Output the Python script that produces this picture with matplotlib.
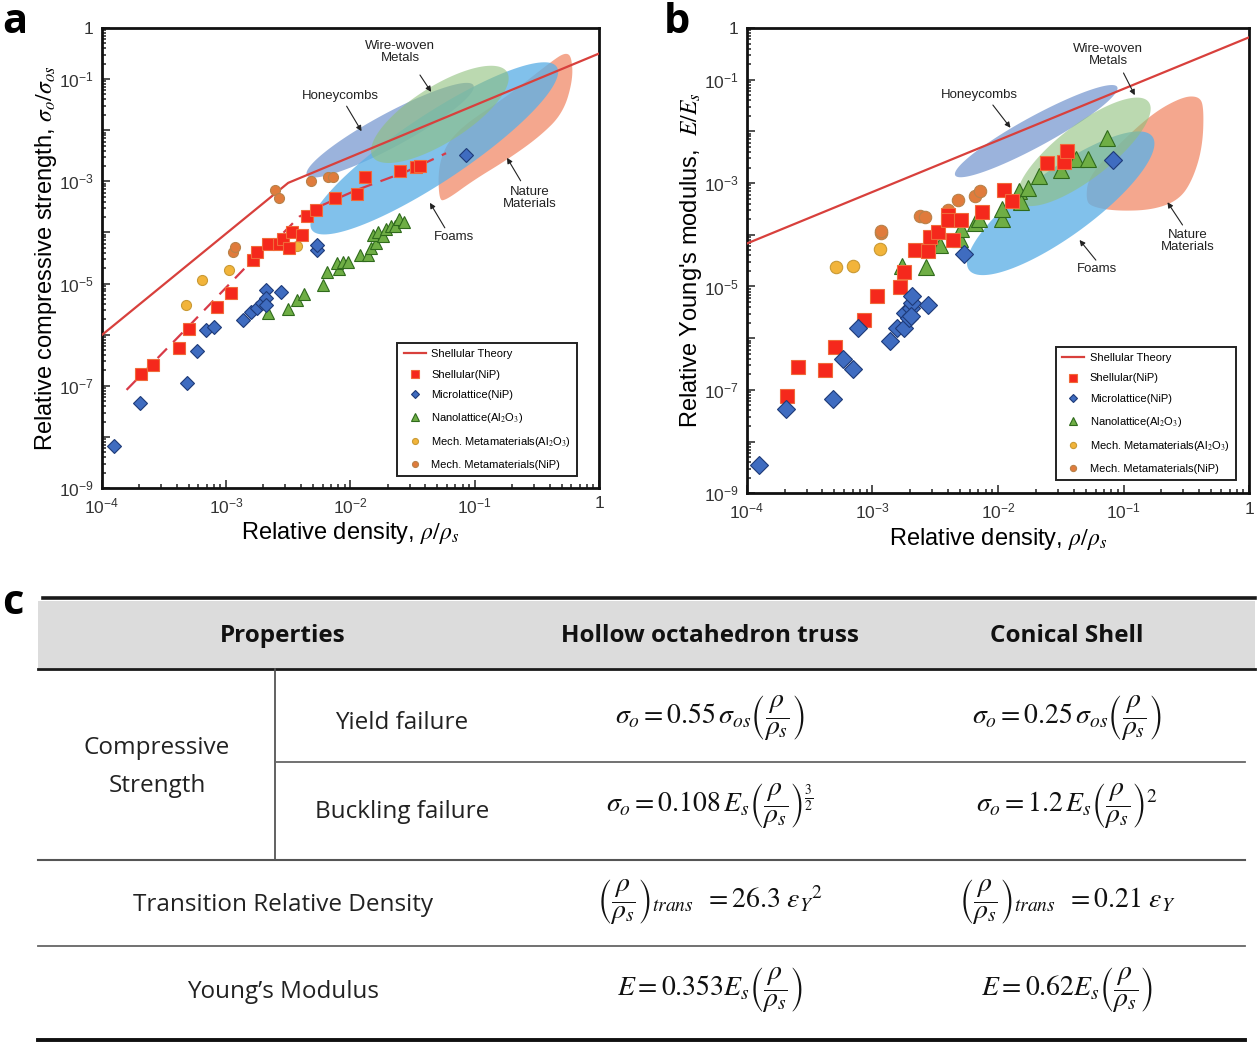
import numpy as np
import matplotlib
matplotlib.use('Agg')
import matplotlib.pyplot as plt
from matplotlib.patches import Rectangle
from matplotlib.ticker import LogLocator, FixedLocator, FuncFormatter, NullFormatter

plt.rcParams['font.family'] = ['Liberation Sans', 'DejaVu Sans']
plt.rcParams['mathtext.fontset'] = 'stix'

# ---- data, stored as log10 values (decades) ----
# panel a : relative compressive strength vs relative density
theory_a_lx = [-4.0, -2.5, 0.0]
theory_a_ly = [-6.01, -3.03, -0.50]
trend_a_lx = [-3.80, -3.29, -2.81, -2.54, -2.41, -2.22, -1.95, -1.55, -1.23]
trend_a_ly = [-7.08, -5.81, -4.60, -4.01, -3.69, -3.46, -3.17, -2.81, -2.45]

shell_a_lx = [-3.68, -3.59, -3.38, -3.30, -3.07, -2.96, -2.78, -2.75, -2.66, -2.57, -2.54,
              -2.49, -2.47, -2.39, -2.35, -2.28, -2.12, -1.95, -1.88, -1.60, -1.47, -1.44]
shell_a_ly = [-6.76, -6.60, -6.26, -5.88, -5.45, -5.19, -4.54, -4.39, -4.22, -4.23, -4.12,
              -4.31, -3.99, -4.05, -3.68, -3.56, -3.33, -3.25, -2.92, -2.79, -2.72, -2.70]
micro_a_lx = [-3.90, -3.69, -3.31, -3.23, -3.16, -3.10, -2.86, -2.80, -2.75, -2.71, -2.68,
              -2.68, -2.68, -2.56, -2.27, -2.27, -1.07]
micro_a_ly = [-8.18, -7.33, -6.94, -6.31, -5.90, -5.85, -5.72, -5.56, -5.47, -5.38, -5.13,
              -5.29, -5.42, -5.16, -4.34, -4.25, -2.48]
nano_a_lx = [-2.66, -2.50, -2.43, -2.37, -2.22, -2.19, -2.09, -2.11, -2.06, -2.02, -1.92,
             -1.86, -1.83, -1.79, -1.82, -1.78, -1.74, -1.71, -1.67, -1.64, -1.61, -1.57]
nano_a_ly = [-5.58, -5.50, -5.32, -5.20, -5.03, -4.78, -4.72, -4.59, -4.58, -4.58, -4.45,
             -4.45, -4.31, -4.21, -4.05, -3.99, -4.07, -3.94, -3.87, -3.88, -3.74, -3.79]
mmal_a_lx = [-3.32, -3.19, -2.98, -2.43]
mmal_a_ly = [-5.41, -4.93, -4.73, -4.27]
mmni_a_lx = [-2.94, -2.93, -2.61, -2.57, -2.32, -2.18, -2.14]
mmni_a_ly = [-4.38, -4.29, -3.16, -3.33, -2.99, -2.91, -2.91]

# panel b : relative Young's modulus vs relative density
theory_b_lx = [-4.0, 0.0]
theory_b_ly = [-4.17, -0.18]
shell_b_lx = [-3.68, -3.59, -3.38, -3.30, -3.07, -2.96, -2.78, -2.75, -2.66, -2.56, -2.54,
              -2.48, -2.40, -2.40, -2.36, -2.29, -2.13, -1.95, -1.89, -1.61, -1.47, -1.45]
shell_b_ly = [-7.12, -6.56, -6.62, -6.17, -5.64, -5.19, -5.01, -4.72, -4.29, -4.31, -4.05,
              -3.94, -3.62, -3.72, -4.10, -3.72, -3.56, -3.13, -3.34, -2.61, -2.59, -2.38]
micro_b_lx = [-3.90, -3.69, -3.31, -3.23, -3.15, -3.11, -2.86, -2.80, -2.75, -2.74, -2.71,
              -2.69, -2.68, -2.68, -2.69, -2.56, -2.27, -1.08]
micro_b_ly = [-8.46, -7.36, -7.18, -6.41, -6.59, -5.81, -6.06, -5.81, -5.81, -5.52, -5.61,
              -5.42, -5.31, -5.19, -5.58, -5.35, -4.37, -2.56]
nano_b_lx = [-2.76, -2.57, -2.46, -2.30, -2.29, -2.18, -2.15, -1.97, -1.97, -1.83, -1.82,
             -1.76, -1.67, -1.50, -1.38, -1.28, -1.13]
nano_b_ly = [-4.60, -4.63, -4.20, -4.08, -3.88, -3.77, -3.69, -3.69, -3.51, -3.15, -3.36,
             -3.10, -2.86, -2.74, -2.53, -2.53, -2.12]
mmal_b_lx = [-3.29, -3.15, -2.94]
mmal_b_ly = [-4.63, -4.60, -4.27]
mmni_b_lx = [-2.93, -2.93, -2.62, -2.58, -2.40, -2.32, -2.18, -2.14]
mmni_b_ly = [-3.97, -3.92, -3.64, -3.65, -3.52, -3.32, -3.25, -3.15]

# material regions: long-axis end points (log x, log y) and half width (y decades)
honey_a = [(-2.35, -2.88), (-1.01, -1.12), 0.33]
wire_a = [(-1.82, -2.52), (-0.74, -0.86), 0.55]
foam_a = [(-2.31, -3.95), (-0.34, -0.76), 0.65]
nature_a_lx = [-1.29, -1.29, -1.15, -0.74, -0.37, -0.27, -0.22, -0.21, -0.29, -0.48, -0.74, -1.01, -1.23]
nature_a_ly = [-3.37, -2.58, -2.00, -1.34, -0.63, -0.48, -0.56, -1.02, -1.67, -2.13, -2.58, -2.98, -3.37]
honey_b = [(-2.34, -2.85), (-1.05, -1.14), 0.29]
wire_b = [(-1.83, -3.36), (-0.80, -1.43), 0.52]
foam_b = [(-2.23, -4.68), (-0.77, -2.10), 0.64]
nature_b_lx = [-1.30, -1.28, -1.06, -0.77, -0.53, -0.40, -0.36, -0.37, -0.45, -0.56, -0.77, -1.06, -1.25]
nature_b_ly = [-3.33, -2.88, -2.30, -1.65, -1.33, -1.32, -1.52, -2.30, -2.94, -3.33, -3.52, -3.54, -3.46]

# labels: text position, arrow tail, arrow head (log x, log y)
region_names = ['Wire-woven\nMetals', 'Honeycombs', 'Nature\nMaterials', 'Foams']
notes_a = [[(-1.60, -0.47), (-1.44, -0.92), (-1.35, -1.25)],
           [(-2.08, -1.33), (-2.03, -1.53), (-1.91, -2.02)],
           [(-0.56, -3.33), (-0.63, -2.99), (-0.74, -2.54)],
           [(-1.17, -4.09), (-1.24, -3.91), (-1.36, -3.42)]]
notes_b = [[(-1.12, -0.52), (-1.00, -0.87), (-0.91, -1.30)],
           [(-2.15, -1.30), (-2.04, -1.49), (-1.90, -1.93)],
           [(-0.49, -4.12), (-0.53, -3.81), (-0.65, -3.37)],
           [(-1.21, -4.66), (-1.22, -4.49), (-1.35, -4.10)]]

# table c
col_heads = ['Properties', 'Hollow octahedron truss', 'Conical Shell']
row_names = ['Yield failure', 'Buckling failure', 'Transition Relative Density', 'Young’s Modulus']
group_name = 'Compressive\nStrength'
eq_truss = [r'$\sigma_o = 0.55\,\sigma_{os}\left(\dfrac{\rho}{\rho_s}\right)$',
            r'$\sigma_o = 0.108\,E_s\left(\dfrac{\rho}{\rho_s}\right)^{\frac{3}{2}}$',
            r'$\left(\dfrac{\rho}{\rho_s}\right)_{trans}\;\; = 26.3\ \varepsilon_Y{}^{2}$',
            r'$E = 0.353E_s\left(\dfrac{\rho}{\rho_s}\right)$']
eq_shell = [r'$\sigma_o = 0.25\,\sigma_{os}\left(\dfrac{\rho}{\rho_s}\right)$',
            r'$\sigma_o = 1.2\,E_s\left(\dfrac{\rho}{\rho_s}\right)^{2}$',
            r'$\left(\dfrac{\rho}{\rho_s}\right)_{trans}\;\; = 0.21\ \varepsilon_Y$',
            r'$E = 0.62E_s\left(\dfrac{\rho}{\rho_s}\right)$']

W, H = 1260, 1049
fig = plt.figure(figsize=(W / 100, H / 100), dpi=100)

C_HONEY = '#8aa6d6'
C_WIRE = '#8fc07c'
C_FOAM = '#5eb0e6'
C_NAT = '#f3987a'


def p10(v):
    return 10 ** np.asarray(v, dtype=float)


def ellipse(ax, spec, k, **kw):
    (x1, y1), (x2, y2), hw = spec
    x1, x2 = x1 * k, x2 * k
    cx, cy = (x1 + x2) / 2, (y1 + y2) / 2
    a = np.hypot(x2 - x1, y2 - y1) / 2
    th = np.arctan2(y2 - y1, x2 - x1)
    t = np.linspace(0, 2 * np.pi, 150)
    ex = cx + a * np.cos(t) * np.cos(th) - hw * np.sin(t) * np.sin(th)
    ey = cy + a * np.cos(t) * np.sin(th) + hw * np.sin(t) * np.cos(th)
    ax.fill(p10(ex / k), p10(ey), lw=0, **kw)


def blob(ax, lx, ly, **kw):
    # chaikin smoothing of a closed outline
    pts = np.column_stack([lx, ly])
    for _ in range(4):
        nxt = np.roll(pts, -1, axis=0)
        pts = np.vstack([0.75 * pts + 0.25 * nxt, 0.25 * pts + 0.75 * nxt])
        order = np.arange(len(pts)).reshape(2, -1).T.ravel()
        pts = pts[order]
    ax.fill(p10(pts[:, 0]), p10(pts[:, 1]), lw=0, **kw)


def decade_fmt(labelled):
    def f(v, pos):
        e = int(round(np.log10(v)))
        if e not in labelled:
            return ''
        if e == 0:
            return '1'
        return r'$\mathdefault{10^{%d}}$' % e
    return FuncFormatter(f)


def setup(ax, ylab):
    ax.set_xscale('log')
    ax.set_yscale('log')
    ax.set_xlim(1e-4, 1)
    ax.set_ylim(1e-9, 1)
    ax.xaxis.set_major_locator(FixedLocator(p10(np.arange(-4, 1))))
    ax.yaxis.set_major_locator(FixedLocator(p10(np.arange(-9, 1))))
    ax.xaxis.set_minor_locator(LogLocator(base=10, subs=np.arange(2, 10), numticks=50))
    ax.yaxis.set_minor_locator(LogLocator(base=10, subs=np.arange(2, 10), numticks=50))
    ax.xaxis.set_minor_formatter(NullFormatter())
    ax.yaxis.set_minor_formatter(NullFormatter())
    ax.xaxis.set_major_formatter(decade_fmt([-4, -3, -2, -1, 0]))
    ax.yaxis.set_major_formatter(decade_fmt([0, -1, -3, -5, -7, -9]))
    ax.tick_params(which='both', direction='in', top=False, right=False, labelsize=12.5,
                   colors='#333333', width=1.2)
    ax.tick_params(which='major', length=6, pad=6)
    ax.tick_params(which='minor', length=3)
    for s in ax.spines.values():
        s.set_linewidth(2)
        s.set_color('#111111')
    ax.set_xlabel(r'Relative density, $\rho/\rho_s$', fontsize=17, labelpad=3)
    ax.set_ylabel(ylab, fontsize=17, labelpad=0)


def panel(ax, d):
    k = (ax.get_position().width * W / 4) / (ax.get_position().height * H / 9)
    blob(ax, d['nat_x'], d['nat_y'], color=C_NAT, alpha=0.85, zorder=1)
    ellipse(ax, d['honey'], k, color=C_HONEY, alpha=0.85, zorder=2)
    ellipse(ax, d['foam'], k, color=C_FOAM, alpha=0.78, zorder=3)
    ellipse(ax, d['wire'], k, color=C_WIRE, alpha=0.6, zorder=4)
    for name, (tp, tail, head) in zip(region_names, d['notes']):
        ax.text(*p10(tp), name, ha='center', va='center', fontsize=9.5, color='#222222',
                linespacing=1.0, zorder=9)
        ax.annotate('', xy=p10(head), xytext=p10(tail),
                    arrowprops=dict(arrowstyle='-|>', color='#222222', lw=0.8,
                                    mutation_scale=8, shrinkA=0, shrinkB=0), zorder=9)
    ax.plot(p10(d['th_x']), p10(d['th_y']), color='#d8403c', lw=1.6, zorder=5,
            label='Shellular Theory')
    if 'tr_x' in d:
        ax.plot(p10(d['tr_x']), p10(d['tr_y']), color='#d83a48', lw=1.6,
                dashes=(6, 4), zorder=5)
    ms = d['ms']
    ax.plot(p10(d['sh'][0]), p10(d['sh'][1]), 's', ms=ms, mfc='#f5281c', mec='#f06a3a',
            mew=0.8, ls='none', zorder=7, label='Shellular(NiP)')
    ax.plot(p10(d['mi'][0]), p10(d['mi'][1]), 'D', ms=ms * 0.85, mfc='#3f6cc0', mec='#1e3a78',
            mew=0.8, ls='none', zorder=7, label='Microlattice(NiP)')
    ax.plot(p10(d['na'][0]), p10(d['na'][1]), '^', ms=ms * 1.05, mfc='#6fae45', mec='#2f6a1c',
            mew=0.8, ls='none', zorder=6, label=r'Nanolattice(Al$_2$O$_3$)')
    ax.plot(p10(d['ma'][0]), p10(d['ma'][1]), 'o', ms=ms * 0.85, mfc='#f2b43a', mec='#c99a35',
            mew=0.8, ls='none', zorder=6, label=r'Mech. Metamaterials(Al$_2$O$_3$)')
    ax.plot(p10(d['mn'][0]), p10(d['mn'][1]), 'o', ms=ms * 0.85, mfc='#e07b3c', mec='#b8824a',
            mew=0.8, ls='none', zorder=6, label='Mech. Metamaterials(NiP)')
    leg = ax.legend(loc='lower right', bbox_to_anchor=d['leg'], fontsize=8, markerscale=d['mks'],
                    handlelength=2.0, labelspacing=0.95, borderpad=0.55, fancybox=False,
                    framealpha=1, edgecolor='#222222', handletextpad=0.5, borderaxespad=0)
    leg.get_frame().set_linewidth(1.4)
    leg.set_zorder(10)


ax_a = fig.add_axes([101.7 / W, 1 - 488 / H, 497.3 / W, 460 / H])
setup(ax_a, r'Relative compressive strength, $\sigma_o/\sigma_{os}$')
panel(ax_a, dict(nat_x=nature_a_lx, nat_y=nature_a_ly, honey=honey_a, foam=foam_a, wire=wire_a,
                 notes=notes_a, th_x=theory_a_lx, th_y=theory_a_ly, tr_x=trend_a_lx, tr_y=trend_a_ly,
                 sh=(shell_a_lx, shell_a_ly), mi=(micro_a_lx, micro_a_ly), na=(nano_a_lx, nano_a_ly),
                 ma=(mmal_a_lx, mmal_a_ly), mn=(mmni_a_lx, mmni_a_ly), ms=8.5, mks=0.6,
                 leg=(0.956, 0.026)))

ax_b = fig.add_axes([746.7 / W, 1 - 493.3 / H, 502.4 / W, 465.3 / H])
setup(ax_b, r"Relative Young's modulus,  $E/E_s$")
panel(ax_b, dict(nat_x=nature_b_lx, nat_y=nature_b_ly, honey=honey_b, foam=foam_b, wire=wire_b,
                 notes=notes_b, th_x=theory_b_lx, th_y=theory_b_ly,
                 sh=(shell_b_lx, shell_b_ly), mi=(micro_b_lx, micro_b_ly), na=(nano_b_lx, nano_b_ly),
                 ma=(mmal_b_lx, mmal_b_ly), mn=(mmni_b_lx, mmni_b_ly), ms=10.5, mks=0.5,
                 leg=(0.973, 0.029)))

for lab, (x, y) in zip('abc', [(2, 2), (664, 2), (2, 583)]):
    fig.text(x / W, 1 - y / H, lab, fontsize=30, fontweight='bold', va='top', ha='left',
             family=['Open Sans', 'DejaVu Sans'])

# ---- table c ----
tb = fig.add_axes([0, 0, 1, 480 / H])
tb.set_xlim(0, W)
tb.set_ylim(H, H - 480)
tb.axis('off')
tfont = ['Open Sans', 'DejaVu Sans']
tb.add_patch(Rectangle((38, 601), 1217, 67, color='#dcdcdc', lw=0))
tb.plot([43, 1255], [598, 598], color='#1a1a1a', lw=2.6)
tb.plot([38, 1255], [669, 669], color='#1a1a1a', lw=2.0)
tb.plot([275, 275], [669, 860], color='#555555', lw=1.3)
tb.plot([275, 1245], [762, 762], color='#666666', lw=1.3)
tb.plot([38, 1245], [860, 860], color='#555555', lw=1.5)
tb.plot([38, 1245], [946, 946], color='#666666', lw=1.3)
tb.plot([38, 1245], [1040, 1040], color='#111111', lw=2.8)

for name, x in zip(col_heads, [283, 710, 1067]):
    tb.text(x, 636, name, ha='center', va='center', fontsize=17.5, fontweight='bold',
            family=tfont, color='#111111')
tb.text(157, 767, group_name, ha='center', va='center', fontsize=17.5, family=tfont,
        linespacing=1.75, color='#222222')
for name, (x, y) in zip(row_names, [(402, 723), (402, 812), (283, 905), (283, 992)]):
    tb.text(x, y, name, ha='center', va='center', fontsize=17.5, family=tfont, color='#222222')
for eqs, x in [(eq_truss, 710), (eq_shell, 1067)]:
    for eq, y in zip(eqs, [718, 806, 902, 990]):
        tb.text(x, y, eq, ha='center', va='center', fontsize=20, color='#111111')

fig.savefig('out.png', dpi=100)
